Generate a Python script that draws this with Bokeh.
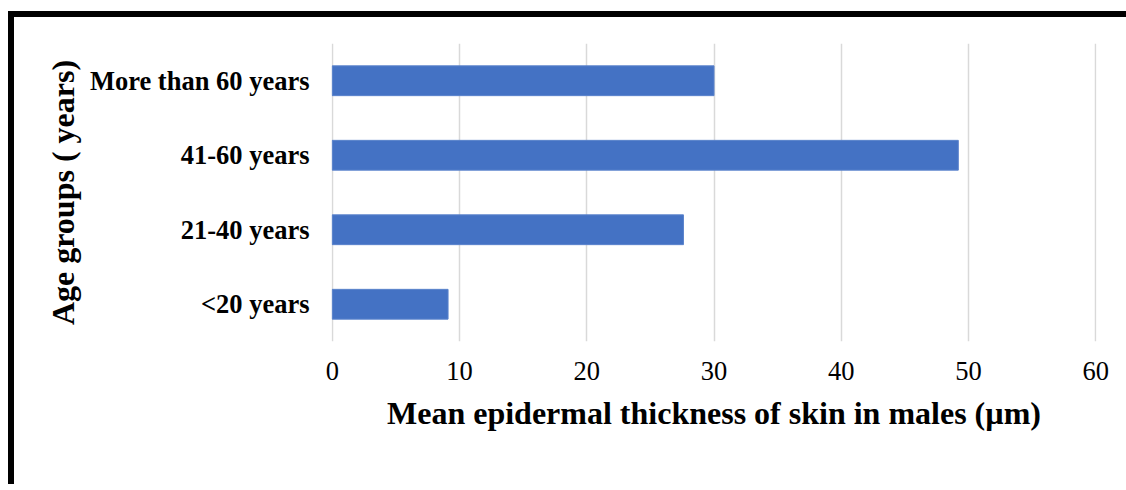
from bokeh.plotting import figure
from bokeh.models import Range1d, FactorRange, FixedTicker
from bokeh.embed import file_html
from bokeh.resources import INLINE

categories = ["<20 years", "21-40 years", "41-60 years", "More than 60 years"]
values = [9.1, 27.6, 49.2, 30.0]
x_ticks = [0, 10, 20, 30, 40, 50, 60]

FONT = "Liberation Serif"
GRID = "#d9d9d9"

p = figure(
    width=1118, height=473,
    y_range=FactorRange(factors=categories),
    x_range=Range1d(-0.06, 60.06),
    output_backend="svg", toolbar_location=None,
    min_border_left=317, min_border_right=36,
    min_border_top=26, min_border_bottom=149,
)
p.styles = {
    "margin-left": "8px", "margin-top": "11px",
    "border-left": "6px solid black", "border-top": "6px solid black",
}

p.ygrid.grid_line_color = None
p.xgrid.grid_line_color = GRID
p.xgrid.grid_line_width = 1.5

p.hbar(y=categories, right=values, left=0, height=0.4,
       fill_color="#4472C4", line_color="#5a83cc", line_width=1)

p.outline_line_color = None
p.background_fill_color = "white"
p.border_fill_color = "white"

p.xaxis.ticker = FixedTicker(ticks=x_ticks)

for ax in (p.xaxis, p.yaxis):
    ax.axis_line_color = None
    ax.major_tick_line_color = None
    ax.minor_tick_line_color = None
    ax.major_tick_out = 0
    ax.major_tick_in = 0

p.xaxis.major_label_text_font = FONT
p.xaxis.major_label_text_font_size = "26.5px"
p.xaxis.major_label_text_color = "black"
p.xaxis.major_label_standoff = 20
p.xaxis.axis_label = "Mean epidermal thickness of skin in males (µm)"
p.xaxis.axis_label_text_font = FONT
p.xaxis.axis_label_text_font_style = "bold"
p.xaxis.axis_label_text_font_size = "32px"
p.xaxis.axis_label_text_color = "black"
p.xaxis.axis_label_standoff = 12

p.yaxis.major_label_text_font = FONT
p.yaxis.major_label_text_font_style = "bold"
p.yaxis.major_label_text_font_size = "26.5px"
p.yaxis.major_label_text_color = "black"
p.yaxis.major_label_standoff = 22
p.yaxis.axis_label = "Age groups ( years)"
p.yaxis.axis_label_text_font = FONT
p.yaxis.axis_label_text_font_style = "bold"
p.yaxis.axis_label_text_font_size = "32px"
p.yaxis.axis_label_text_color = "black"
p.yaxis.axis_label_standoff = 6

open("out.html", "w").write(file_html(p, INLINE))
